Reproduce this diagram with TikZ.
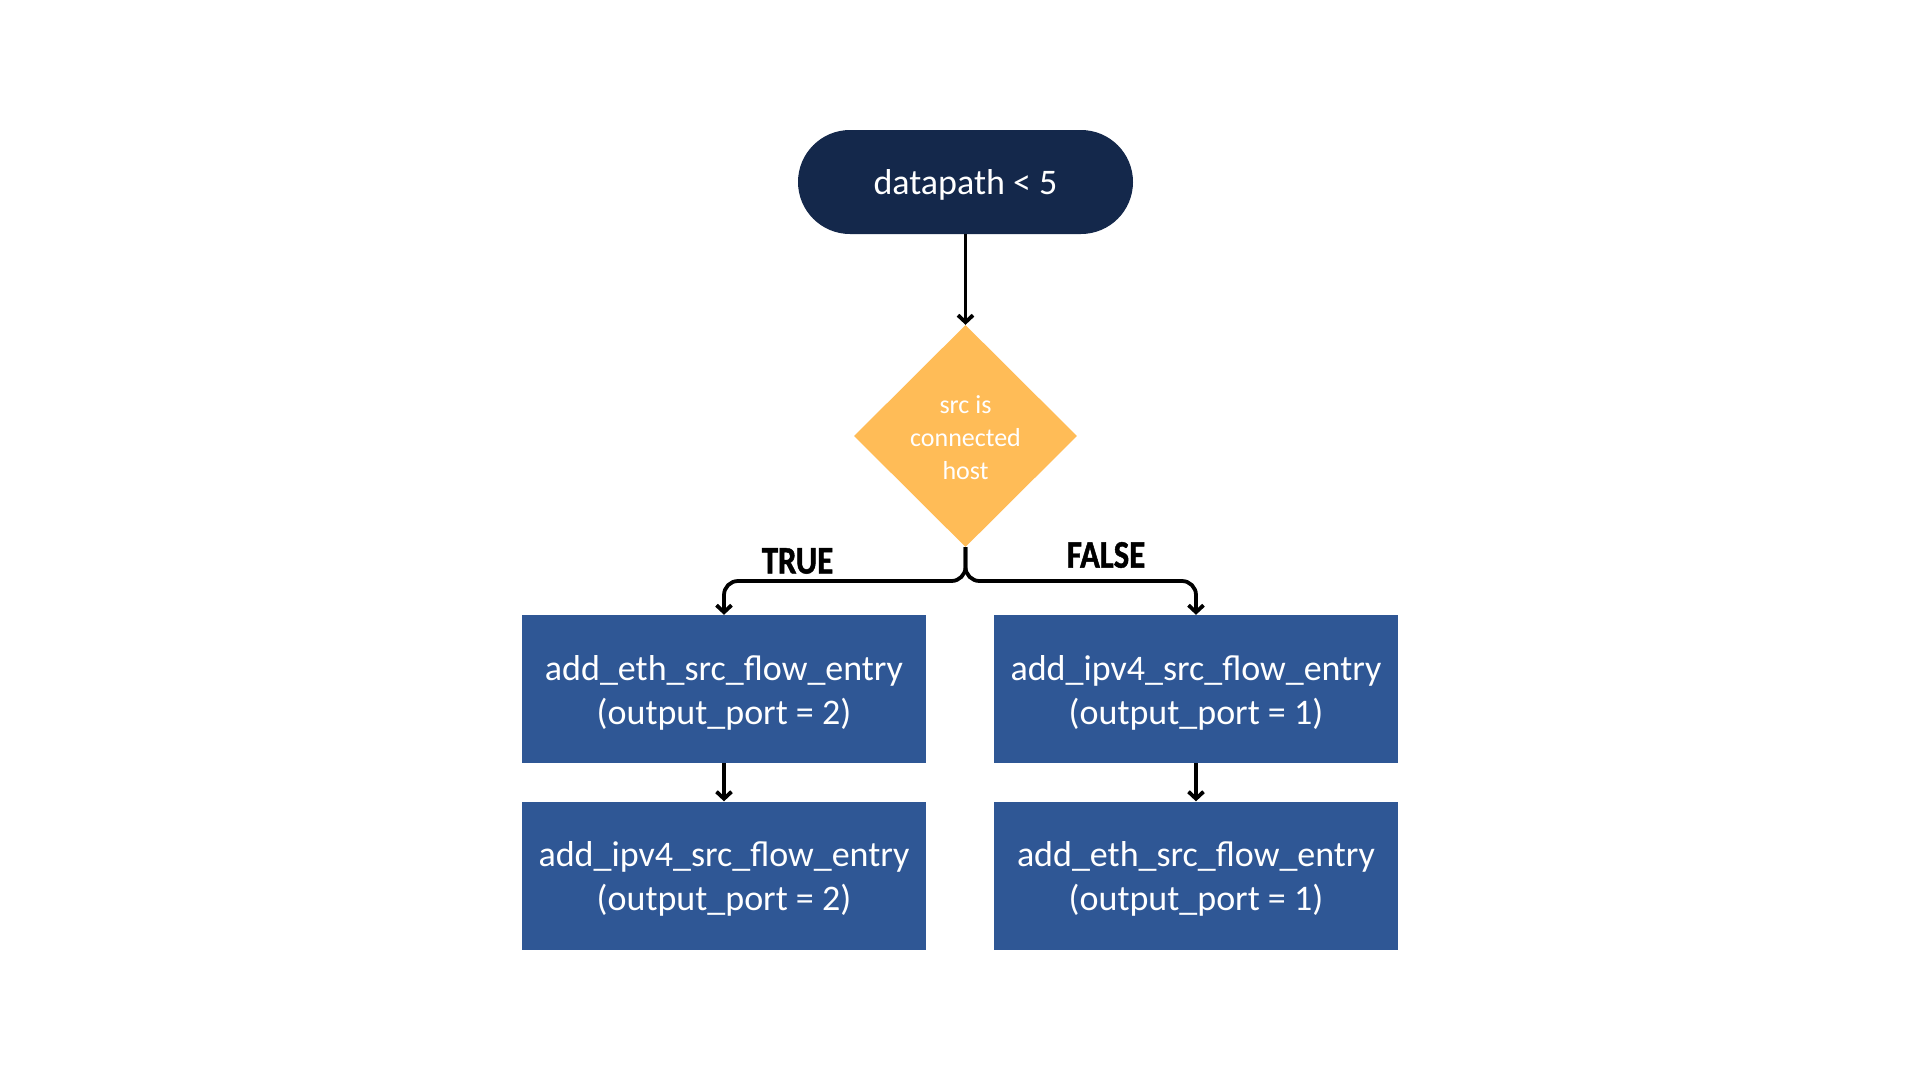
\documentclass[tikz,border=0pt]{standalone}
\usepackage{fontspec}
\setmainfont{Carlito}
\newfontfamily\lblfont[FakeBold=1.2,FakeStretch=0.84]{Carlito Bold}
\usetikzlibrary{shapes.geometric,arrows.meta}
\definecolor{navy}{HTML}{14284B}
\definecolor{amber}{HTML}{FFBC57}
\definecolor{boxblue}{HTML}{2F5795}
\tikzset{
  conn/.style={line width=3.8pt,-{Straight Barb[length=7pt,width=15pt,line width=3.8pt]}},
  pill/.style={fill=navy,rounded corners=52pt,minimum width=335pt,minimum height=104pt,inner sep=0pt},
  pilltxt/.style={text=white,font=\fontsize{36}{44}\selectfont,yshift=-2.5pt},
  decision/.style={diamond,fill=amber,minimum width=223pt,minimum height=222pt,inner sep=0pt},
  dtxt/.style={text=white,align=center,font=\fontsize{26}{33}\selectfont,yshift=-2pt},
  action/.style={fill=boxblue,minimum width=404pt,minimum height=148pt,inner sep=0pt},
  atxt/.style={text=white,align=center,font=\fontsize{36}{44}\selectfont,yshift=-3.5pt},
  branchlbl/.style={font=\lblfont\fontsize{39}{39}\selectfont,text=black}
}
\begin{document}
\begin{tikzpicture}[x=1pt,y=-1pt]
\useasboundingbox (0,0) rectangle (1920,1080);
\fill[white] (0,0) rectangle (1920,1080);
\node[pill,label={[pilltxt]center:datapath < 5}] (start) at (965.5,182) {};
\node[decision,label={[dtxt]center:src is\\connected\\host}] (dec) at (965.5,436) {};
\node[action,label={[atxt]center:add\_eth\_src\_flow\_entry\\(output\_port = 2)}] (a1) at (724,689) {};
\node[action,label={[atxt]center:add\_ipv4\_src\_flow\_entry\\(output\_port = 2)}] (a2) at (724,875.5) {};
\node[action,label={[atxt]center:add\_ipv4\_src\_flow\_entry\\(output\_port = 1)}] (b1) at (1196,689) {};
\node[action,label={[atxt]center:add\_eth\_src\_flow\_entry\\(output\_port = 1)}] (b2) at (1196,875.5) {};
\node[branchlbl] (tl) at (797.5,561) {TRUE};
\node[branchlbl] (fl) at (1106,555) {FALSE};
\coordinate (split) at (965.5,581);
\draw[conn] (start.south) -- (dec.north);
\draw[conn,rounded corners=14pt] (dec.south) -- (split) -- (split -| a1.north) -- (a1.north);
\draw[conn,rounded corners=14pt] (dec.south) -- (split) -- (split -| b1.north) -- (b1.north);
\draw[conn] (a1.south) -- (a2.north);
\draw[conn] (b1.south) -- (b2.north);
\end{tikzpicture}
\end{document}
